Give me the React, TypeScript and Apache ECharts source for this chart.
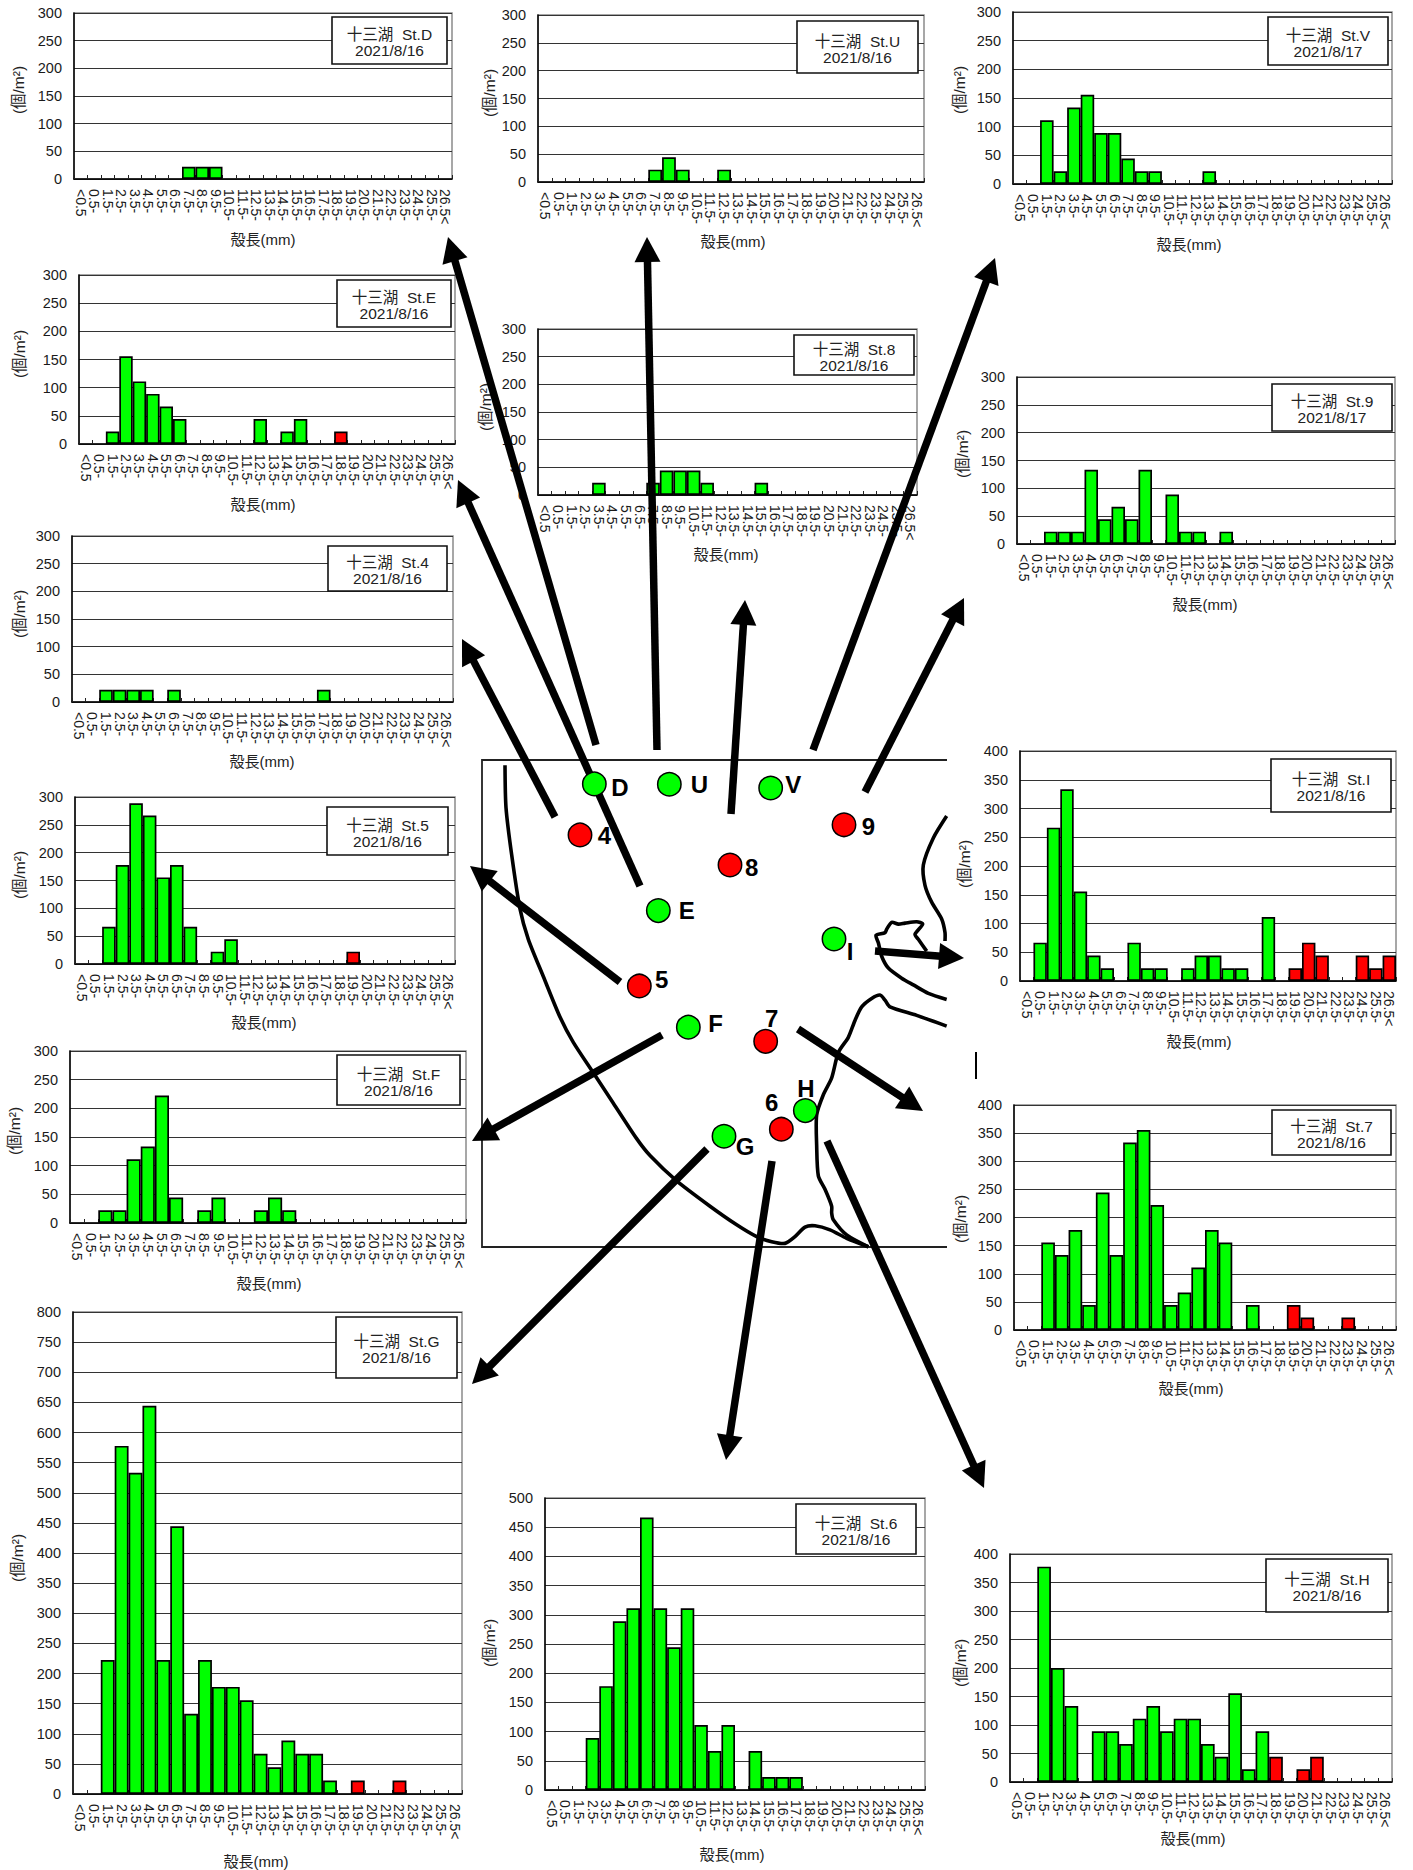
import React, { useEffect, useRef } from "react";
import * as echarts from "echarts";

const categories = [
  "<0.5", "0.5-", "1.5-", "2.5-", "3.5-", "4.5-", "5.5-", "6.5-", "7.5-", "8.5-", "9.5-", "10.5-", "11.5-", "12.5-",
  "13.5-", "14.5-", "15.5-", "16.5-", "17.5-", "18.5-", "19.5-", "20.5-", "21.5-", "22.5-", "23.5-", "24.5-", "25.5-", "26.5<",
];
const RED_FROM = categories.indexOf("18.5-");

// Density (個/m²) per shell-length class, one array per station, in category order.
const stD = [0, 0, 0, 0, 0, 0, 0, 0, 22.2, 22.2, 22.2, 0, 0, 0, 0, 0, 0, 0, 0, 0, 0, 0, 0, 0, 0, 0, 0, 0];
const stU = [0, 0, 0, 0, 0, 0, 0, 0, 22.2, 44.4, 22.2, 0, 0, 22.2, 0, 0, 0, 0, 0, 0, 0, 0, 0, 0, 0, 0, 0, 0];
const stV = [0, 0, 111.1, 22.2, 133.3, 155.6, 88.9, 88.9, 44.4, 22.2, 22.2, 0, 0, 0, 22.2, 0, 0, 0, 0, 0, 0, 0, 0, 0, 0, 0, 0, 0];
const stE = [0, 0, 22.2, 155.6, 111.1, 88.9, 66.7, 44.4, 0, 0, 0, 0, 0, 44.4, 0, 22.2, 44.4, 0, 0, 22.2, 0, 0, 0, 0, 0, 0, 0, 0];
const st8 = [0, 0, 0, 0, 22.2, 0, 0, 0, 22.2, 44.4, 44.4, 44.4, 22.2, 0, 0, 0, 22.2, 0, 0, 0, 0, 0, 0, 0, 0, 0, 0, 0];
const st9 = [0, 0, 22.2, 22.2, 22.2, 133.3, 44.4, 66.7, 44.4, 133.3, 0, 88.9, 22.2, 22.2, 0, 22.2, 0, 0, 0, 0, 0, 0, 0, 0, 0, 0, 0, 0];
const st4 = [0, 0, 22.2, 22.2, 22.2, 22.2, 0, 22.2, 0, 0, 0, 0, 0, 0, 0, 0, 0, 0, 22.2, 0, 0, 0, 0, 0, 0, 0, 0, 0];
const st5 = [0, 0, 66.7, 177.8, 288.9, 266.7, 155.6, 177.8, 66.7, 0, 22.2, 44.4, 0, 0, 0, 0, 0, 0, 0, 0, 22.2, 0, 0, 0, 0, 0, 0, 0];
const stF = [0, 0, 22.2, 22.2, 111.1, 133.3, 222.2, 44.4, 0, 22.2, 44.4, 0, 0, 22.2, 44.4, 22.2, 0, 0, 0, 0, 0, 0, 0, 0, 0, 0, 0, 0];
const stG = [0, 0, 222.2, 577.8, 533.3, 644.4, 222.2, 444.4, 133.3, 222.2, 177.8, 177.8, 155.6, 66.7, 44.4, 88.9, 66.7, 66.7, 22.2, 0, 22.2, 0, 0, 22.2, 0, 0, 0, 0];
const stI = [0, 66.7, 266.7, 333.3, 155.6, 44.4, 22.2, 0, 66.7, 22.2, 22.2, 0, 22.2, 44.4, 44.4, 22.2, 22.2, 0, 111.1, 0, 22.2, 66.7, 44.4, 0, 0, 44.4, 22.2, 44.4];
const st7 = [0, 0, 155.6, 133.3, 177.8, 44.4, 244.4, 133.3, 333.3, 355.6, 222.2, 44.4, 66.7, 111.1, 177.8, 155.6, 0, 44.4, 0, 0, 44.4, 22.2, 0, 0, 22.2, 0, 0, 0];
const st6 = [0, 0, 0, 88.9, 177.8, 288.9, 311.1, 466.7, 311.1, 244.4, 311.1, 111.1, 66.7, 111.1, 0, 66.7, 22.2, 22.2, 22.2, 0, 0, 0, 0, 0, 0, 0, 0, 0];
const stH = [0, 0, 377.8, 200, 133.3, 0, 88.9, 88.9, 66.7, 111.1, 133.3, 88.9, 111.1, 111.1, 66.7, 44.4, 155.6, 22.2, 88.9, 44.4, 0, 22.2, 44.4, 0, 0, 0, 0, 0];

const stations = [
  { id: "D", date: "2021/8/16", values: stD, max: 300 },
  { id: "U", date: "2021/8/16", values: stU, max: 300 },
  { id: "V", date: "2021/8/17", values: stV, max: 300 },
  { id: "E", date: "2021/8/16", values: stE, max: 300 },
  { id: "8", date: "2021/8/16", values: st8, max: 300 },
  { id: "9", date: "2021/8/17", values: st9, max: 300 },
  { id: "4", date: "2021/8/16", values: st4, max: 300 },
  { id: "5", date: "2021/8/16", values: st5, max: 300 },
  { id: "F", date: "2021/8/16", values: stF, max: 300 },
  { id: "G", date: "2021/8/16", values: stG, max: 800 },
  { id: "I", date: "2021/8/16", values: stI, max: 400 },
  { id: "7", date: "2021/8/16", values: st7, max: 400 },
  { id: "6", date: "2021/8/16", values: st6, max: 500 },
  { id: "H", date: "2021/8/16", values: stH, max: 400 },
];

// Panel layout: plot rectangle [left,right,top,bottom], note box [x0,y0,x1,y1], axis-title centres.
const panelLayout: Record<string, any> = {
  D: { plot: [74, 452, 13, 179], box: [332, 17, 447, 64], xt: [263, 239], yt: [18, 90] },
  U: { plot: [538, 924, 15, 182], box: [797, 21, 918, 73], xt: [733, 241], yt: [489, 93] },
  V: { plot: [1013, 1392, 12, 184], box: [1268, 17, 1388, 65], xt: [1189, 244], yt: [959, 90] },
  E: { plot: [79, 455, 275, 444], box: [337, 280, 451, 327], xt: [263, 504], yt: [19, 354] },
  "8": { plot: [538, 917, 329, 495], box: [794, 335, 914, 375], xt: [726, 554], yt: [485, 407] },
  "9": { plot: [1017, 1395, 377, 544], box: [1272, 384, 1392, 431], xt: [1205, 604], yt: [962, 454] },
  "4": { plot: [72, 453, 536, 702], box: [328, 546, 447, 591], xt: [262, 761], yt: [19, 614] },
  "5": { plot: [75, 455, 797, 964], box: [327, 807, 448, 855], xt: [264, 1022], yt: [19, 875] },
  F: { plot: [70, 466, 1051, 1223], box: [337, 1055, 460, 1105], xt: [269, 1283], yt: [14, 1131] },
  G: { plot: [73, 462, 1312, 1794], box: [336, 1317, 457, 1378], xt: [256, 1861], yt: [17, 1558] },
  I: { plot: [1020, 1396, 751, 981], box: [1271, 759, 1391, 812], xt: [1199, 1041], yt: [964, 864] },
  "7": { plot: [1014, 1396, 1105, 1330], box: [1272, 1110, 1391, 1155], xt: [1191, 1388], yt: [960, 1219] },
  "6": { plot: [545, 925, 1498, 1790], box: [796, 1504, 916, 1554], xt: [732, 1854], yt: [489, 1643] },
  H: { plot: [1010, 1392, 1554, 1782], box: [1266, 1559, 1388, 1612], xt: [1193, 1838], yt: [960, 1663] },
};

// Map: station markers in a 3x crop frame anchored at (470,740).
const mapPoint = (p: number[]) => [470 + p[0] / 3, 740 + p[1] / 2.96];
const shoreLeft = [[105, 75], [108, 200], [125, 340], [150, 500], [175, 590], [220, 700], [270, 820], [310, 895], [370, 985], [430, 1075], [500, 1180], [540, 1230], [620, 1305], [720, 1380], [800, 1435], [860, 1470], [905, 1485], [945, 1490], [975, 1470], [1005, 1442], [1035, 1438], [1080, 1450], [1130, 1475], [1195, 1500]];
const shoreRight = [[1195, 1500], [1130, 1465], [1090, 1420], [1085, 1400], [1085, 1380], [1065, 1330], [1045, 1290], [1040, 1200], [1040, 1110], [1060, 1050], [1085, 1000], [1105, 925], [1135, 880], [1155, 830], [1175, 790], [1205, 765], [1230, 755], [1245, 770], [1260, 790], [1340, 815], [1430, 847]];
const shoreUpper = [[1430, 225], [1390, 290], [1360, 370], [1365, 430], [1385, 480], [1415, 530], [1425, 570], [1425, 595]];
const shoreInlet = [[1370, 625], [1345, 590], [1335, 575], [1358, 545], [1340, 538], [1305, 542], [1285, 545], [1265, 540], [1250, 560], [1245, 570], [1218, 578], [1225, 600], [1235, 640], [1255, 675], [1295, 705], [1330, 725], [1375, 750], [1430, 768]];

const mapStations = [
  { label: "D", c: [373, 130], t: [450, 142], color: "#00ff00" },
  { label: "U", c: [598, 131], t: [688, 133], color: "#00ff00" },
  { label: "V", c: [902, 142], t: [970, 133], color: "#00ff00" },
  { label: "4", c: [330, 281], t: [403, 282], color: "#ff0000" },
  { label: "9", c: [1122, 251], t: [1195, 257], color: "#ff0000" },
  { label: "8", c: [780, 370], t: [845, 378], color: "#ff0000" },
  { label: "E", c: [565, 505], t: [650, 505], color: "#00ff00" },
  { label: "I", c: [1092, 589], t: [1140, 625], color: "#00ff00" },
  { label: "5", c: [508, 728], t: [575, 710], color: "#ff0000" },
  { label: "F", c: [655, 850], t: [737, 840], color: "#00ff00" },
  { label: "7", c: [887, 892], t: [905, 825], color: "#ff0000" },
  { label: "H", c: [1006, 1097], t: [1008, 1033], color: "#00ff00" },
  { label: "6", c: [934, 1152], t: [905, 1073], color: "#ff0000" },
  { label: "G", c: [762, 1173], t: [825, 1203], color: "#00ff00" },
];

// Arrows from map stations to their panels: [startX, startY, tipX, tipY].
const arrows = [
  [596, 745, 448, 237],
  [640, 886, 458, 480],
  [555, 817, 462, 639],
  [657, 750, 647, 237],
  [731, 814, 745, 600],
  [813, 750, 995, 258],
  [865, 792, 964, 598],
  [875, 951, 964, 958],
  [620, 982, 470, 866],
  [662, 1035, 472, 1141],
  [798, 1029, 923, 1111],
  [707, 1149, 472, 1384],
  [772, 1161, 726, 1460],
  [827, 1141, 984, 1488],
];

const LATIN = '"Liberation Sans", "Noto Sans CJK JP", sans-serif';

function buildArrow(a: number[]) {
  const [x0, y0, x1, y1] = a;
  const len = Math.hypot(x1 - x0, y1 - y0);
  const ux = (x1 - x0) / len;
  const uy = (y1 - y0) / len;
  const headLen = 25;
  const headHalf = 13;
  const bx = x1 - ux * headLen;
  const by = y1 - uy * headLen;
  return [
    { type: "line", z: 20, shape: { x1: x0, y1: y0, x2: bx + ux * 2, y2: by + uy * 2 }, style: { stroke: "#000", lineWidth: 7.5 } },
    { type: "polygon", z: 20, shape: { points: [[x1, y1], [bx - uy * headHalf, by + ux * headHalf], [bx + uy * headHalf, by - ux * headHalf]] }, style: { fill: "#000" } },
  ];
}

function buildOption() {
  const grid: any[] = [];
  const xAxis: any[] = [];
  const yAxis: any[] = [];
  const series: any[] = [];
  const graphic: any[] = [];

  stations.forEach((s, i) => {
    const lay = panelLayout[s.id];
    const [L, R, T, B] = lay.plot;
    grid.push({ left: L, top: T, width: R - L, height: B - T, show: true, borderColor: "#8a8a8a", borderWidth: 1.5, backgroundColor: "#fff" });
    const xOff = lay.xt[0] - (L + R) / 2;
    const yOff = (T + B) / 2 - lay.yt[1];
    xAxis.push({
      type: "category",
      gridIndex: i,
      data: categories,
      boundaryGap: true,
      name: "殻長(mm)",
      nameLocation: "middle",
      nameGap: lay.xt[1] - B,
      nameTextStyle: {
        fontFamily: LATIN, fontSize: 15, color: "#222", verticalAlign: "middle",
        padding: [0, xOff < 0 ? -2 * xOff : 0, 0, xOff > 0 ? 2 * xOff : 0],
      },
      axisLine: { show: true, onZero: false, lineStyle: { color: "#000", width: 1.5 } },
      axisTick: { show: true, inside: true, length: 4, alignWithLabel: false, interval: 0, lineStyle: { color: "#222", width: 1 } },
      axisLabel: { interval: 0, rotate: -90, margin: 10, fontFamily: LATIN, fontSize: 14, color: "#1a1a1a", hideOverlap: false },
      splitLine: { show: false },
    });
    yAxis.push({
      type: "value",
      gridIndex: i,
      min: 0,
      max: s.max,
      interval: 50,
      name: "(個/m²)",
      nameLocation: "middle",
      nameRotate: 90,
      nameGap: L - lay.yt[0],
      nameTextStyle: {
        fontFamily: LATIN, fontSize: 15.5, color: "#222", verticalAlign: "middle",
        padding: [0, yOff < 0 ? -2 * yOff : 0, 0, yOff > 0 ? 2 * yOff : 0],
      },
      axisLine: { show: true, lineStyle: { color: "#000", width: 1.5 } },
      axisTick: { show: false },
      axisLabel: { margin: 12, fontFamily: LATIN, fontSize: 14.5, color: "#1a1a1a" },
      splitLine: { show: true, lineStyle: { color: "#333", width: 1.2 } },
    });
    series.push({
      type: "bar",
      name: "St." + s.id,
      xAxisIndex: i,
      yAxisIndex: i,
      barWidth: "100%",
      z: 5,
      data: s.values.map((v, k) =>
        v > 0
          ? { value: v, itemStyle: { color: k >= RED_FROM ? "#ff0000" : "#00ff00", borderColor: "#000", borderWidth: 1.7 } }
          : null
      ),
    });

    const [bx0, by0, bx1, by1] = lay.box;
    const cx = (bx0 + bx1) / 2;
    const cy = (by0 + by1) / 2;
    graphic.push(
      { type: "rect", z: 10, shape: { x: bx0, y: by0, width: bx1 - bx0, height: by1 - by0 }, style: { fill: "#fff", stroke: "#111", lineWidth: 1.6 } },
      { type: "text", z: 11, style: { x: cx, y: cy - 6, text: "十三湖  St." + s.id, fontFamily: LATIN, fontSize: 15.5, fill: "#222", align: "center", verticalAlign: "middle" } },
      { type: "text", z: 11, style: { x: cx, y: cy + 10, text: s.date, fontFamily: LATIN, fontSize: 15.5, fill: "#222", align: "center", verticalAlign: "middle" } }
    );
  });

  // Map frame (open on the right side) and shorelines.
  graphic.push({ type: "polyline", z: 12, shape: { points: [[947, 760], [482, 760], [482, 1247], [947, 1247]] }, style: { stroke: "#222", lineWidth: 1.8, fill: "none" } });
  [shoreLeft, shoreRight, shoreUpper, shoreInlet].forEach((line) => {
    graphic.push({ type: "polyline", z: 13, shape: { points: line.map(mapPoint), smooth: 0.25 }, style: { stroke: "#000", lineWidth: 3.6, fill: "none" } });
  });
  graphic.push({ type: "line", z: 13, shape: { x1: 976, y1: 1052, x2: 976, y2: 1079 }, style: { stroke: "#000", lineWidth: 2 } });

  arrows.forEach((a) => graphic.push(...buildArrow(a)));

  mapStations.forEach((m) => {
    const c = mapPoint(m.c);
    const t = mapPoint(m.t);
    graphic.push(
      { type: "circle", z: 30, shape: { cx: c[0], cy: c[1], r: 11.7 }, style: { fill: m.color, stroke: "#000", lineWidth: 1.5 } },
      { type: "text", z: 31, style: { x: t[0], y: t[1], text: m.label, fontFamily: LATIN, fontWeight: "bold", fontSize: 24, fill: "#000", align: "center", verticalAlign: "middle" } }
    );
  });

  return { animation: false, backgroundColor: "#fff", grid, xAxis, yAxis, series, graphic: { elements: graphic } };
}

export default function App() {
  const ref = useRef<HTMLDivElement>(null);
  useEffect(() => {
    const chart = echarts.init(ref.current!, undefined, { renderer: "svg" });
    chart.setOption(buildOption() as any);
    return () => chart.dispose();
  }, []);
  return <div ref={ref} style={{ position: "absolute", left: 0, top: 0, width: 1413, height: 1870 }} />;
}
